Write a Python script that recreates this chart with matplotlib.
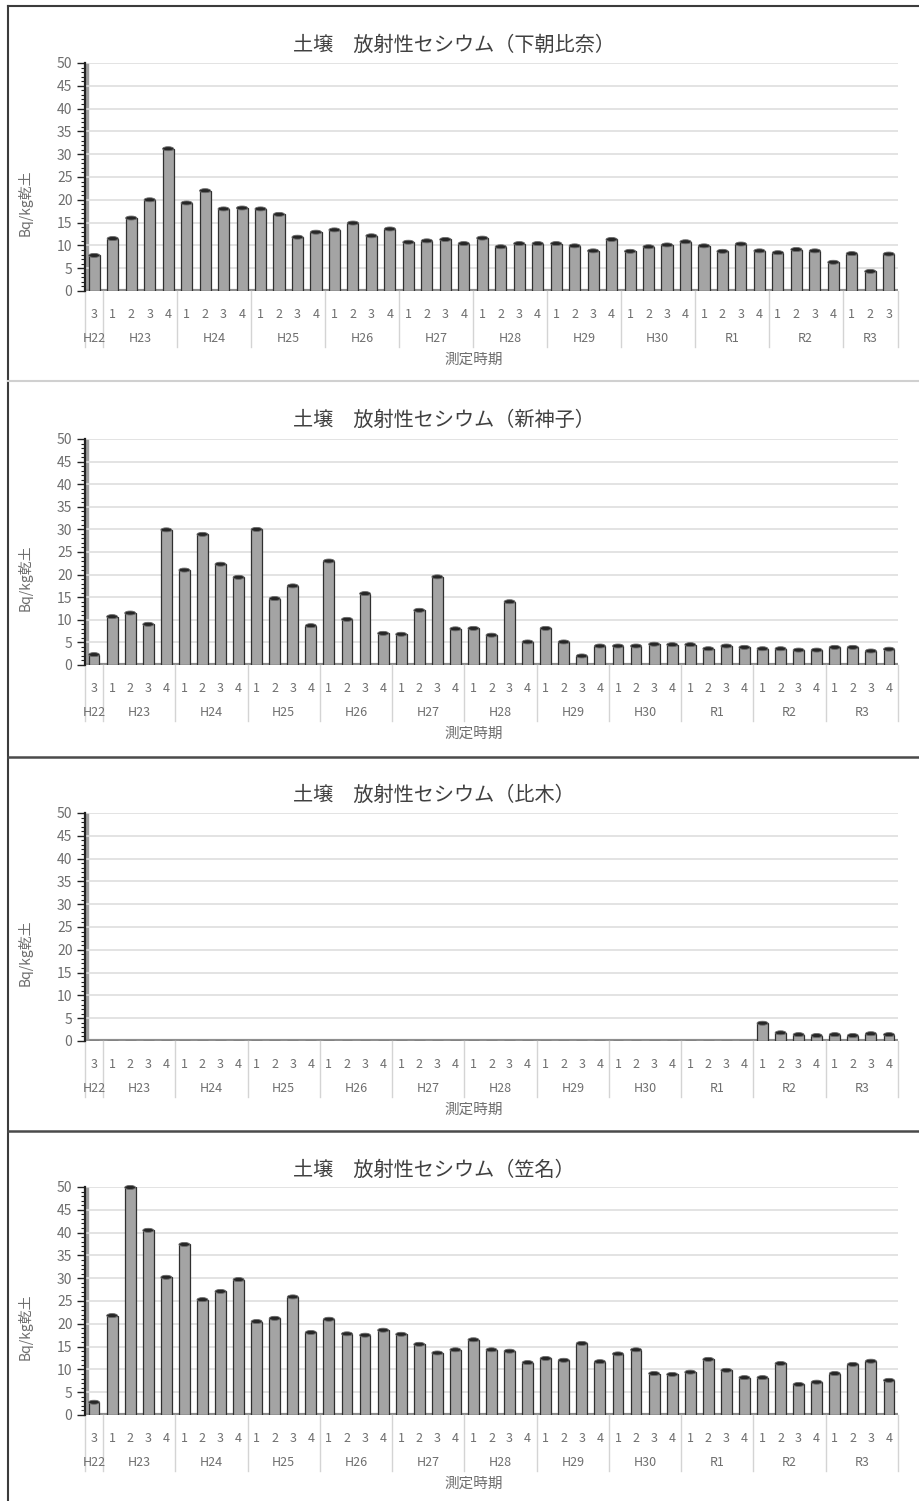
import numpy as np
import matplotlib
matplotlib.use("Agg")
import matplotlib.pyplot as plt
from matplotlib.patches import Ellipse
from matplotlib.lines import Line2D
from matplotlib.transforms import blended_transform_factory

plt.rcParams['font.family'] = ['Noto Sans CJK JP', 'DejaVu Sans']

# --- data -----------------------------------------------------------
years = ['H22', 'H23', 'H24', 'H25', 'H26', 'H27', 'H28', 'H29', 'H30', 'R1', 'R2', 'R3']
quarters_p1 = [['3']] + [['1', '2', '3', '4']] * 10 + [['1', '2', '3']]
quarters_all = [['3']] + [['1', '2', '3', '4']] * 11

shimoasahina = [7.8,
                11.5, 16.0, 20.0, 31.2,
                19.3, 22.0, 18.0, 18.2,
                18.0, 16.8, 11.8, 12.9,
                13.4, 14.9, 12.1, 13.6,
                10.7, 11.0, 11.3, 10.4,
                11.6, 9.7, 10.4, 10.4,
                10.4, 9.9, 8.8, 11.3,
                8.7, 9.7, 10.1, 10.8,
                9.9, 8.7, 10.3, 8.8,
                8.4, 9.1, 8.8, 6.3,
                8.2, 4.3, 8.1]

shinmiko = [2.3,
            10.7, 11.5, 9.0, 29.9,
            21.0, 28.9, 22.3, 19.4,
            30.0, 14.7, 17.5, 8.7,
            23.0, 10.1, 15.8, 7.0,
            6.8, 12.1, 19.5, 8.0,
            8.1, 6.6, 14.0, 5.1,
            8.1, 5.1, 2.0, 4.2,
            4.2, 4.2, 4.6, 4.5,
            4.5, 3.6, 4.2, 3.9,
            3.6, 3.6, 3.3, 3.3,
            3.9, 3.9, 3.1, 3.5]

hiki = [0.0,
        0.0, 0.0, 0.0, 0.0,
        0.0, 0.0, 0.0, 0.0,
        0.0, 0.0, 0.0, 0.0,
        0.0, 0.0, 0.0, 0.0,
        0.0, 0.0, 0.0, 0.0,
        0.0, 0.0, 0.0, 0.0,
        0.0, 0.0, 0.0, 0.0,
        0.0, 0.0, 0.0, 0.0,
        0.0, 0.0, 0.0, 0.0,
        3.9, 1.8, 1.4, 1.2,
        1.4, 1.2, 1.6, 1.4]

kasana = [2.8,
          21.8, 49.9, 40.5, 30.2,
          37.4, 25.3, 27.1, 29.7,
          20.5, 21.2, 25.9, 18.1,
          21.0, 17.8, 17.5, 18.6,
          17.7, 15.5, 13.6, 14.3,
          16.5, 14.3, 14.0, 11.5,
          12.4, 12.0, 15.7, 11.7,
          13.4, 14.3, 9.1, 8.9,
          9.4, 12.2, 9.8, 8.2,
          8.2, 11.3, 6.7, 7.2,
          9.1, 11.1, 11.8, 7.6]

panels = [
    ('土壌　放射性セシウム（下朝比奈）', shimoasahina, quarters_p1, 291, 63, 45),
    ('土壌　放射性セシウム（新神子）', shinmiko, quarters_all, 665, 439, 420),
    ('土壌　放射性セシウム（比木）', hiki, quarters_all, 1041, 813, 795),
    ('土壌　放射性セシウム（笠名）', kasana, quarters_all, 1415, 1187, 1170),
]

W, H = 920, 1501
fig = plt.figure(figsize=(W / 100, H / 100), dpi=100)
fig.patch.set_facecolor('white')


def fx(px):
    return px / W


def fy(py):
    return 1 - py / H


grey_txt = '#6e6e6e'
bar_w = 0.6

for title, values, quarters, y0_px, y50_px, title_px in panels:
    n = len(values)
    ax = fig.add_axes([fx(85), fy(y0_px), fx(898) - fx(85), (y0_px - y50_px) / H])
    x = np.arange(n)

    ax.bar(x, values, width=bar_w, color='#a4a4a4', edgecolor='#303030',
           linewidth=0.9, zorder=3)
    cap_h = 50 / (y0_px - y50_px) * 4.0
    for xi, v in zip(x, values):
        if v > 0:
            ax.add_patch(Ellipse((xi, v), bar_w, cap_h, facecolor='#262626',
                                 edgecolor='#6a6a6a', linewidth=0.6, zorder=4,
                                 clip_on=False))

    ax.set_xlim(-0.5, n - 0.5)
    ax.set_ylim(0, 50)
    ax.set_yticks(np.arange(0, 51, 5))
    ax.set_yticks(np.arange(0, 51, 1), minor=True)
    ax.grid(axis='y', color='#dedede', linewidth=1.2, zorder=0)
    ax.tick_params(axis='y', which='major', length=6, width=1.0, color='#222222',
                   labelsize=10, labelcolor=grey_txt, pad=3)
    ax.tick_params(axis='y', which='minor', length=3, width=0.8, color='#222222')

    for s in ['top', 'right', 'bottom']:
        ax.spines[s].set_visible(False)
    ax.spines['left'].set_color('#222222')
    ax.spines['left'].set_linewidth(1.6)
    ax.axvspan(-0.5, -0.32, color='#a0a0a0', zorder=1)
    ax.axhline(0, color='#8f8f8f', linewidth=3, zorder=2)

    # quarter labels
    q_flat = [q for grp in quarters for q in grp]
    ax.set_xticks(x)
    ax.set_xticklabels(q_flat)
    ax.tick_params(axis='x', length=0, pad=12, labelsize=9, labelcolor=grey_txt)

    # year labels and separators
    trans = blended_transform_factory(ax.transData, ax.transAxes)
    h_ax = y0_px - y50_px
    start = 0
    bounds = [-0.5]
    for yr, grp in zip(years, quarters):
        centre = start + (len(grp) - 1) / 2
        ax.text(centre, -48 / h_ax, yr, transform=trans, ha='center', va='center',
                fontsize=9, color=grey_txt)
        start += len(grp)
        bounds.append(start - 0.5)
    for b in bounds:
        ax.add_line(Line2D([b, b], [0, -56 / h_ax], transform=trans,
                           color='#d4d4d4', linewidth=1.0, clip_on=False))

    fig.text(fx(474), fy(y0_px + 69), '測定時期', ha='center', va='center',
             fontsize=10.5, color=grey_txt)
    fig.text(fx(25), fy((y0_px + y50_px) / 2 + 26), 'Bq/kg乾土', rotation=90,
             ha='center', va='center', fontsize=10, color=grey_txt)
    fig.text(fx(293), fy(title_px), title, ha='left', va='center',
             fontsize=14.5, color='#404040')

# panel frames
fig.add_artist(Line2D([fx(8), fx(8)], [fy(6), fy(1501)], transform=fig.transFigure,
                      color='#3c3c3c', linewidth=1.5))
fig.add_artist(Line2D([fx(8), fx(920)], [fy(6), fy(6)], transform=fig.transFigure,
                      color='#3c3c3c', linewidth=1.5))
fig.add_artist(Line2D([fx(8), fx(920)], [fy(381), fy(381)], transform=fig.transFigure,
                      color='#d0d0d0', linewidth=1.5))
for yb in [757, 1131]:
    fig.add_artist(Line2D([fx(8), fx(920)], [fy(yb), fy(yb)], transform=fig.transFigure,
                          color='#4a4a4a', linewidth=1.8))

fig.savefig('out.png', dpi=100)
